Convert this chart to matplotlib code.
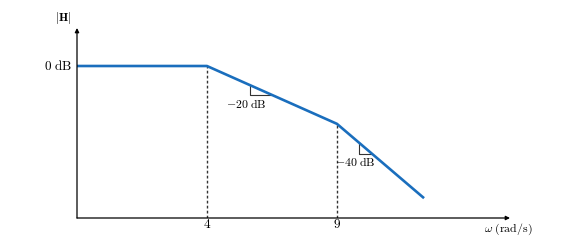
import matplotlib
matplotlib.use("Agg")
from matplotlib import pyplot as plt

plt.rcParams['mathtext.fontset'] = 'cm'
plt.rcParams['font.family'] = 'serif'
plt.rcParams['font.serif'] = ['DejaVu Serif']

# asymptotic Bode magnitude (breaks at 4 and 9 rad/s)
omega = [1.778, 4, 9, 15.5]
mag_db = [0, 0, -7.0, -16.0]
breaks = [4, 9]
break_db = [0, -7.0]
tick_labels = ['4', '9']

fig = plt.figure(figsize=(5.63, 2.42), dpi=100)
ax = fig.add_axes([77 / 563, 24 / 242, 433 / 563, 190 / 242])
ax.set_xscale('log')
ax.set_xlim(1.778, 26.5)
ax.set_ylim(-18.4, 4.6)
ax.axis('off')

blue = '#1a6ebd'
ax.plot(omega, mag_db, color=blue, lw=1.9, solid_capstyle='butt', zorder=3)

# dashed drop lines
for w, d in zip(breaks, break_db):
    ax.plot([w, w], [-18.4, d], color='#333333', lw=1.0, ls=(0, (2, 1.6)), zorder=2)

# axes with arrow heads
arr = dict(arrowstyle='-|>', color='black', lw=0.9, mutation_scale=6, shrinkA=0, shrinkB=0)
ax.annotate('', xy=(1, 0), xytext=(0, 0), xycoords='axes fraction', arrowprops=arr)
ax.annotate('', xy=(0, 1), xytext=(0, 0), xycoords='axes fraction', arrowprops=arr)

# slope triangles
ax.plot([5.23, 5.23, 5.96], [-2.33, -3.46, -3.46], color='#333333', lw=0.8)
ax.plot([10.33, 10.33, 11.13], [-9.39, -10.69, -10.69], color='#333333', lw=0.8)
ax.text(5.13, -4.6, r'$-20\ \mathrm{dB}$', ha='center', va='center', fontsize=8.5)
ax.text(10.08, -11.65, r'$-40\ \mathrm{dB}$', ha='center', va='center', fontsize=8.5)

# labels
ax.text(-0.012, (0 + 18.4) / 23.0, r'$0\ \mathrm{dB}$', transform=ax.transAxes,
        ha='right', va='center', fontsize=9.5)
ax.text(-0.012, 1.05, r'$|\mathbf{H}|$', transform=ax.transAxes,
        ha='right', va='center', fontsize=8.5)
for w, lab in zip(breaks, tick_labels):
    ax.text(w, -18.4, '$' + lab + '$', ha='center', va='top', fontsize=9.5)
ax.text(0.995, -0.058, r'$\omega\ \mathrm{(rad/s)}$', transform=ax.transAxes,
        ha='center', va='center', fontsize=8.5)

plt.savefig('out.png', dpi=100)
